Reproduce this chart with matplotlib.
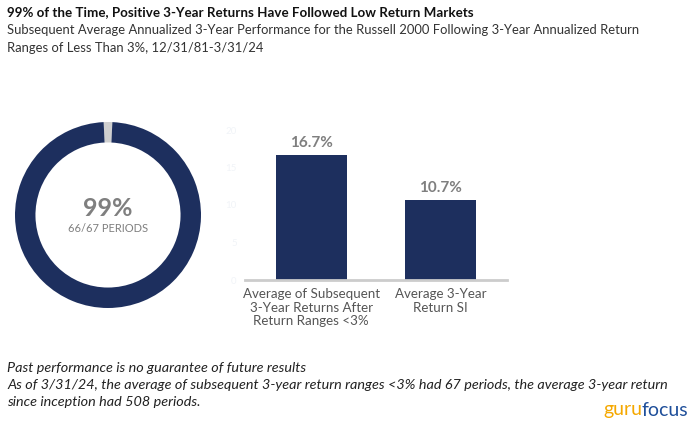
import matplotlib.pyplot as plt

plt.rcParams['font.family'] = ['Lato', 'DejaVu Sans']

# data
categories = ["Average of Subsequent\n3-Year Returns After\nReturn Ranges <3%", "Average 3-Year\nReturn SI"]
returns = [16.7, 10.7]
value_labels = ["16.7%", "10.7%"]
y_ticks = [0, 5, 10, 15, 20]
periods_positive = 66
periods_total = 67

navy = "#1d2f5e"
W, H = 698, 432
fig = plt.figure(figsize=(W / 100, H / 100), dpi=100)

# titles
fig.text(7 / W, 1 - 12 / H, "99% of the Time, Positive 3-Year Returns Have Followed Low Return Markets",
         fontsize=9.6, fontweight="bold", color="#111111", va="center")
fig.text(7 / W, 1 - 30 / H, "Subsequent Average Annualized 3-Year Performance for the Russell 2000 Following 3-Year Annualized Return",
         fontsize=9.4, color="#333333", va="center")
fig.text(7 / W, 1 - 48 / H, "Ranges of Less Than 3%, 12/31/81-3/31/24",
         fontsize=9.4, color="#333333", va="center")

# donut
ax_d = fig.add_axes([15 / W, 1 - 308 / H, 186 / W, 186 / H])
neg = periods_total - periods_positive
frac = 360.0 * neg / periods_total
ax_d.pie([neg, periods_positive], colors=["#cfcfcf", navy], startangle=90 + frac / 2,
         counterclock=False, radius=1.0, wedgeprops=dict(width=0.22, linewidth=0))
ax_d.set_xlim(-1, 1)
ax_d.set_ylim(-1, 1)
ax_d.set_aspect("equal")
ax_d.text(0, 0.07, f"{round(100 * periods_positive / periods_total)}%", ha="center", va="center",
          fontsize=18, fontweight="bold", color="#7f7f7f")
ax_d.text(0, -0.15, f"{periods_positive}/{periods_total} PERIODS", ha="center", va="center",
          fontsize=8, color="#7f7f7f")

# bars
ax = fig.add_axes([245 / W, 1 - 280 / H, 262 / W, 150 / H])
x = list(range(len(returns)))
ax.bar(x, returns, width=0.546, color=navy, zorder=2)
for xi, v, lab in zip(x, returns, value_labels):
    ax.text(xi, v + 0.6, lab, ha="center", va="bottom", fontsize=11, fontweight="bold", color="#7f7f7f")
ax.set_xlim(-0.51, 1.51)
ax.set_ylim(0, 20)
ax.set_yticks(y_ticks)
ax.set_yticklabels([str(t) for t in y_ticks], fontsize=7, color="#f1f4f8")
ax.set_xticks(x)
ax.set_xticklabels(categories, fontsize=9.6, color="#555555", linespacing=1.15)
ax.tick_params(length=0, pad=6)
for s in ["top", "right", "left"]:
    ax.spines[s].set_visible(False)
ax.spines["bottom"].set_color("#cccccc")
ax.spines["bottom"].set_linewidth(2)

# footnotes
fig.text(7 / W, 1 - 368 / H, "Past performance is no guarantee of future results",
         fontsize=10.4, style="italic", color="#222222", va="center")
fig.text(7 / W, 1 - 385 / H, "As of 3/31/24, the average of subsequent 3-year return ranges <3% had 67 periods, the average 3-year return",
         fontsize=10.4, style="italic", color="#222222", va="center")
fig.text(7 / W, 1 - 402 / H, "since inception had 508 periods.",
         fontsize=10.4, style="italic", color="#222222", va="center")

# logo
t1 = fig.text(603 / W, 1 - 410 / H, "guru", fontsize=14, color="#f5a800", va="center")
r = fig.canvas.get_renderer()
bb = t1.get_window_extent(renderer=r)
fig.text(bb.x1 / W, 1 - 410 / H, "focus", fontsize=14, color="#1f4f9a", va="center")

fig.savefig("out.png", dpi=100)
